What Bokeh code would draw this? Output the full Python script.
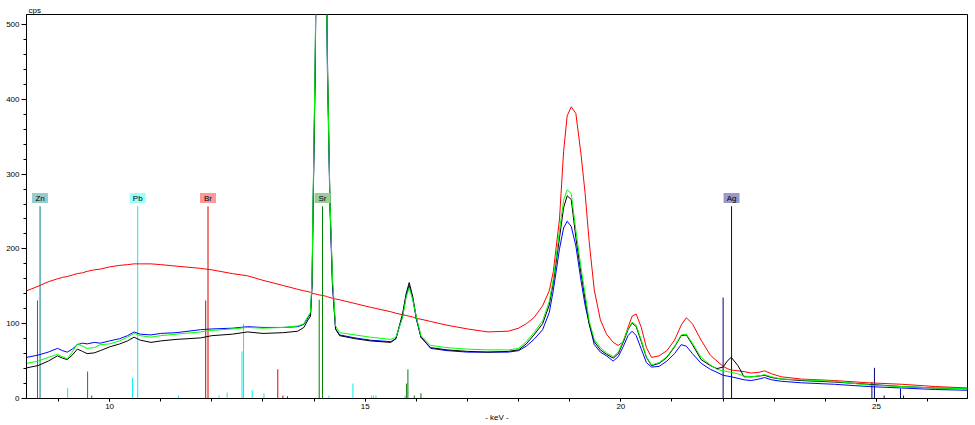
from bokeh.plotting import figure
from bokeh.models import FixedTicker, ColumnDataSource
from bokeh.core.properties import value
from bokeh.embed import file_html
from bokeh.resources import INLINE

FONT = "Liberation Sans"

# ---- spectra (energy in keV, intensity in cps) ----
kev = [8.38, 8.6, 8.8, 8.98, 9.08, 9.17, 9.27, 9.37, 9.47, 9.56, 9.7, 9.82, 10.0, 10.2, 10.35, 10.48,
       10.6, 10.81, 11.0, 11.3, 11.78, 12.0, 12.4, 12.7, 13.0, 13.4, 13.68, 13.8, 13.88, 13.93, 13.96,
       13.98, 14.02, 14.06, 14.14, 14.22, 14.26, 14.31, 14.36, 14.42, 14.5, 14.8, 15.1, 15.5, 15.6,
       15.73, 15.8, 15.86, 15.93, 16.0, 16.09, 16.28, 16.6, 17.0, 17.4, 17.8, 18.0, 18.15, 18.3, 18.47,
       18.6, 18.68, 18.8, 18.88, 18.95, 19.03, 19.12, 19.22, 19.3, 19.38, 19.48, 19.6, 19.72, 19.85,
       19.95, 20.05, 20.14, 20.22, 20.3, 20.4, 20.5, 20.6, 20.75, 20.9, 21.05, 21.18, 21.28, 21.4,
       21.57, 21.75, 21.88, 22.0, 22.08, 22.16, 22.29, 22.41, 22.55, 22.7, 22.81, 22.95, 23.14, 23.53,
       24.18, 24.84, 25.5, 26.15, 26.8]

red_cps = [144, 150, 156, 160, 162, 163, 165, 167, 168, 170, 172, 173, 176, 178, 179, 180,
           180, 180, 179, 177, 174, 172, 167, 164, 158, 151, 146, 144, 143, 142, 141,
           140, 140, 139, 138, 137, 136, 135, 134, 133, 132, 127, 122, 116, 114,
           112, 111, 110, 109, 107, 106, 103, 98, 93, 89, 90, 94, 100, 108, 124,
           144, 170, 240, 330, 378, 390, 381, 327, 275, 210, 145, 105, 86, 75,
           71, 76, 95, 110, 113, 95, 68, 55, 57, 64, 78, 98, 108, 100,
           78, 58, 50, 43, 40, 38, 37, 36, 34, 35, 37, 33, 29, 26,
           24, 21, 19, 16, 14]

blue_cps = [55, 58, 62, 67, 64, 62, 66, 72, 74, 73, 75, 74, 77, 80, 84, 89,
            86, 85, 87, 88, 92, 93, 94, 96, 95, 95, 96, 99, 108, 113, 155,
            255, 440, 700, 1000, 700, 440, 255, 150, 93, 85, 81, 78, 76, 80,
            110, 137, 151, 133, 106, 82, 67, 64, 62, 62, 62, 64, 70, 79, 92,
            115, 145, 200, 228, 237, 230, 204, 158, 125, 100, 72, 62, 57, 50,
            56, 70, 84, 90, 84, 66, 48, 42, 43, 50, 60, 72, 70, 60,
            47, 39, 35, 31, 30, 29, 27, 25, 24, 26, 28, 25, 23, 21,
            19, 16, 14, 12, 11]

green_cps = [47, 50, 55, 59, 56, 53, 62, 73, 70, 67, 68, 72, 73, 77, 82, 87,
             84, 82, 84, 86, 89, 91, 93, 95, 94, 95, 97, 100, 110, 115, 160,
             265, 450, 720, 1000, 720, 450, 265, 160, 97, 88, 85, 82, 79, 82,
             108, 135, 148, 132, 109, 84, 71, 68, 66, 65, 65, 67, 76, 88, 104,
             130, 160, 225, 265, 279, 274, 225, 175, 140, 104, 79, 68, 61, 56,
             62, 78, 93, 102, 98, 78, 56, 45, 48, 56, 70, 85, 86, 74,
             55, 45, 39, 37, 36, 35, 33, 30, 29, 30, 32, 29, 26, 25,
             23, 18, 16, 14, 13]

black_cps = [41, 44, 50, 57, 54, 52, 58, 66, 63, 60, 61, 64, 69, 73, 77, 82,
             78, 75, 77, 79, 81, 84, 86, 89, 87, 88, 90, 95, 105, 110, 150,
             250, 430, 700, 1000, 720, 460, 265, 155, 93, 84, 80, 77, 75, 80,
             113, 140, 155, 136, 108, 82, 68, 65, 63, 62, 63, 65, 73, 85, 100,
             125, 155, 215, 255, 271, 266, 215, 168, 133, 100, 76, 65, 59, 54,
             60, 76, 92, 101, 96, 76, 55, 44, 47, 55, 69, 84, 85, 72,
             52, 44, 40, 42, 50, 55, 44, 29, 29, 30, 31, 28, 26, 24,
             22, 19, 16, 14, 13]

# ---- element line markers ----
zn_kev = [8.59, 8.64, 9.57, 9.65]
zn_cps = [131, 257, 36, 4]
pb_kev = [9.18, 10.45, 10.55, 11.35, 12.14, 12.3, 12.59, 12.62, 12.79, 13.02, 14.29, 14.76, 15.12, 15.16, 15.21, 15.78]
pb_cps = [14, 28, 257, 4, 4, 8, 63, 100, 11, 7, 4, 20, 4, 4, 4, 4]
br_kev = [11.88, 11.925, 13.29, 13.39, 13.48]
br_cps = [131, 257, 39, 4, 3]
sr_kev = [14.1, 14.165, 15.81, 15.835, 15.96, 16.09]
sr_cps = [132, 257, 20, 39, 4, 7]
ag_kev = [22.0, 22.165, 24.91, 24.96, 25.15, 25.47, 25.53]
ag_cps = [135, 257, 22, 41, 4, 13, 4]

elements = ["Zn", "Pb", "Br", "Sr", "Ag"]
element_kev = [8.64, 10.55, 11.925, 14.165, 22.165]
element_label_cps = [268, 268, 268, 268, 268]
element_line_colors = ["#008080", "#00f0f0", "#e00000", "#008000", "#000080"]
element_box_colors = ["#99cccc", "#99ffff", "#ff9999", "#99cc99", "#9999cc"]

x_major = [10, 15, 20, 25]
x_minor = list(range(9, 27))
y_major = [0, 100, 200, 300, 400, 500]
y_minor = list(range(0, 520, 20))

p = figure(width=975, height=425, x_range=(8.375, 26.78), y_range=(0, 513.4),
           output_backend="svg", toolbar_location=None, title="cps",
           min_border_left=26, min_border_right=8, min_border_top=14, min_border_bottom=27)
p.title.text_font = FONT
p.title.text_font_size = "8px"
p.title.text_font_style = "normal"
p.title.text_color = "black"
p.title.align = "left"
p.title.offset = 2
p.title.standoff = 0
p.xgrid.visible = False
p.ygrid.visible = False
p.outline_line_color = "black"
p.outline_line_width = 1
p.background_fill_color = "white"
p.border_fill_color = "white"

for ax in (p.xaxis[0], p.yaxis[0]):
    ax.axis_line_color = "black"
    ax.major_tick_line_color = "black"
    ax.minor_tick_line_color = "black"
    ax.major_tick_in = 0
    ax.minor_tick_in = 0
    ax.major_label_text_font = FONT
    ax.major_label_text_font_size = "8px"
    ax.major_label_text_color = "#000000"

p.xaxis[0].ticker = FixedTicker(ticks=x_major, minor_ticks=x_minor)
p.xaxis[0].major_tick_out = 3
p.xaxis[0].minor_tick_out = 3
p.xaxis[0].major_label_standoff = 2
p.xaxis[0].axis_label = "- keV -"
p.xaxis[0].axis_label_standoff = 1
p.xaxis[0].axis_label_text_font = FONT
p.xaxis[0].axis_label_text_font_size = "8px"
p.xaxis[0].axis_label_text_font_style = "normal"
p.xaxis[0].axis_label_text_color = "black"
p.yaxis[0].ticker = FixedTicker(ticks=y_major, minor_ticks=y_minor)
p.yaxis[0].major_tick_out = 5
p.yaxis[0].minor_tick_out = 3
p.yaxis[0].major_label_standoff = 2

# sticks
for ks, cs, col in [(zn_kev, zn_cps, element_line_colors[0]), (pb_kev, pb_cps, element_line_colors[1]),
                    (br_kev, br_cps, element_line_colors[2]), (sr_kev, sr_cps, element_line_colors[3]),
                    (ag_kev, ag_cps, element_line_colors[4])]:
    p.segment(x0=ks, y0=[0] * len(ks), x1=ks, y1=cs, line_color=col, line_width=1)

# spectra
p.line(kev, red_cps, line_color="#ff0000", line_width=1)
p.line(kev, blue_cps, line_color="#0000ff", line_width=1)
p.line(kev, black_cps, line_color="#000000", line_width=1)
p.line(kev, green_cps, line_color="#00ff00", line_width=1)

# element labels
src = ColumnDataSource(dict(x=element_kev, y=element_label_cps, t=elements, fc=element_box_colors))
p.rect(x="x", y="y", width=16, height=10, width_units="screen", height_units="screen",
       fill_color="fc", line_color=None, source=src)
p.text(x="x", y="y", text="t", text_align="center", text_baseline="middle",
       text_font=value(FONT), text_font_size="8px", text_color="black", source=src)

assert len(kev) == len(red_cps) == len(blue_cps) == len(green_cps) == len(black_cps)

open("out.html", "w").write(file_html(p, INLINE))
